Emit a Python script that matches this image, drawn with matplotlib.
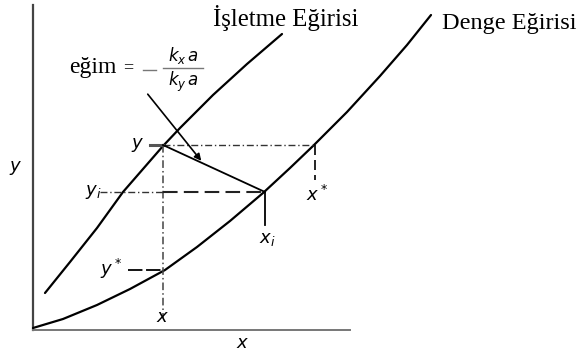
import matplotlib.pyplot as plt
import numpy as np

# diagram drawn in a 579 x 358 canvas coordinate system (y grows downward)
op_x = [45, 70, 97, 123, 163, 180, 213, 247, 282]
op_y = [293, 262, 228, 192, 146, 128, 95, 64, 34]

eq_x = [33, 63, 97, 130, 165, 197, 230, 263, 290, 313, 347, 380, 407, 431]
eq_y = [328, 319, 305, 289, 270, 247, 221, 193, 168, 146, 112, 76, 45, 15]

# bulk point (x, y), interface point (x_i, y_i), equilibrium values x*, y*
x_b, y_b = 163, 145
x_i, y_i = 265, 192
x_star = 315
y_star = 270

plt.rcParams['font.family'] = ['Liberation Serif', 'DejaVu Serif']
plt.rcParams['mathtext.fontset'] = 'dejavusans'

fig = plt.figure(figsize=(5.79, 3.58), dpi=100)
ax = fig.add_axes([0, 0, 1, 1])
ax.set_xlim(0, 579)
ax.set_ylim(358, 0)
ax.axis('off')

# axes of the diagram
ax.plot([33, 33], [5, 330], color='#444444', lw=1.6)
ax.plot([33, 350], [330, 330], color='#777777', lw=1.4)

# operating and equilibrium curves
ax.plot(op_x, op_y, color='black', lw=1.6, solid_capstyle='round',
        solid_joinstyle='round')
ax.plot(eq_x, eq_y, color='black', lw=1.6, solid_capstyle='round',
        solid_joinstyle='round')

# construction lines
ax.plot([150, x_b], [y_b, y_b], color='#555555', lw=2.2)
ax.plot([x_b, x_star], [y_b, y_b], color='#333333', lw=1.0, dashes=(5, 2, 1, 2))
ax.plot([x_b, x_b], [y_b, 318], color='#444444', lw=1.1, dashes=(5, 2, 1, 2))
ax.plot([100, x_b], [y_i, y_i], color='#333333', lw=1.0, dashes=(5, 2, 1, 2))
ax.plot([x_b, x_i], [y_i, y_i], color='#222222', lw=1.5, dashes=(7, 3))
ax.plot([x_i, x_i], [y_i, 225], color='black', lw=1.3)
ax.plot([x_star, x_star], [y_b, 180], color='black', lw=1.2, dashes=(6, 3))
ax.plot([128, x_b], [y_star, y_star], color='black', lw=1.3, dashes=(8, 2))

# tie line from bulk to interface
ax.plot([x_b, x_i], [y_b, y_i], color='black', lw=1.3)

# slope pointer
ax.annotate('', xy=(203, 163), xytext=(146, 92),
            arrowprops=dict(arrowstyle='-|>', color='black', lw=1.2,
                            mutation_scale=10))

# labels
lab = dict(ha='center', va='center', fontsize=13, color='black')
ax.text(138, 145, '$y$', **lab)
ax.text(93, 192, '$y_i$', **lab)
ax.text(111, 269, '$y^*$', **lab)
ax.text(163, 318, '$x$', **lab)
ax.text(267, 240, '$x_i$', **lab)
ax.text(317, 195, '$x^*$', **lab)
ax.text(16, 168, '$y$', **lab)
ax.text(243, 343, '$x$', **lab)

# slope expression: eğim = - kx a / ky a
ax.text(69, 67, 'eğim', ha='left', va='center', fontsize=17)
ax.text(128, 68, '=', ha='center', va='center', fontsize=13)
ax.plot([143, 156], [70, 70], color='#777777', lw=1.0)
ax.plot([163, 203], [68, 68], color='#777777', lw=1.0)
ax.text(183, 55, r'$k_x\,a$', ha='center', va='center', fontsize=12)
ax.text(183, 82, r'$k_y\,a$', ha='center', va='center', fontsize=12)

ax.text(213, 18, 'İşletme Eğirisi', ha='left', va='center', fontsize=17.8)
ax.text(442, 23, 'Denge Eğirisi', ha='left', va='center', fontsize=17.5)

fig.savefig('out.png', dpi=100)
